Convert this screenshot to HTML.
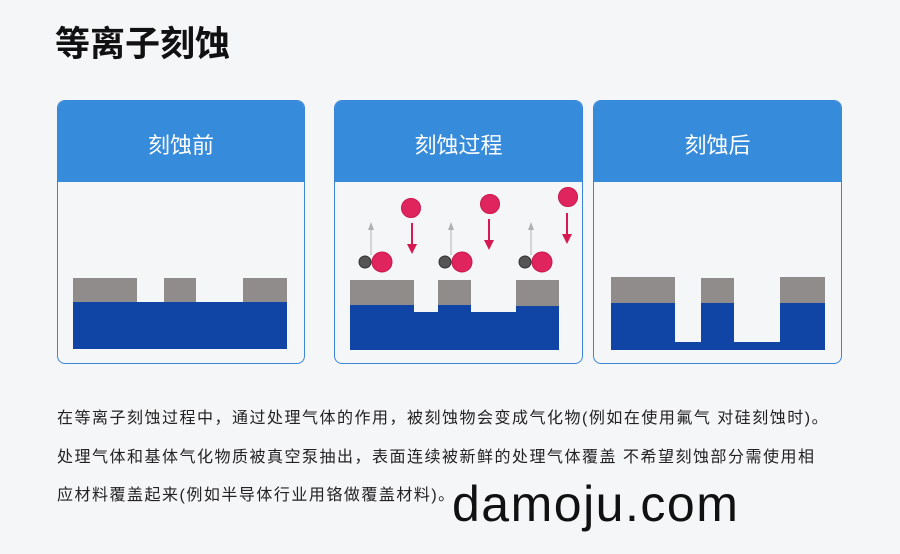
<!DOCTYPE html>
<html><head><meta charset="utf-8"><style>
body{margin:0;width:900px;height:554px;background:#f5f6f8;position:relative;overflow:hidden;font-family:"Liberation Sans","Noto Sans CJK SC",sans-serif}
.t{position:absolute;left:55px;top:16px;font-size:35px;font-weight:bold;color:#111}
.p{position:absolute;top:100px;height:264px;border:1px solid #3b86d6;border-radius:8px;background:#f5f6f8;overflow:hidden;box-sizing:border-box}
.h{height:81px;background:#378bdb;color:#fff;font-size:22px;text-align:center;line-height:90px}
.r{position:absolute}
.txt{position:absolute;left:57px;font-size:16px;color:#222;white-space:nowrap;letter-spacing:1.5px}
.wm{position:absolute;left:452px;top:475px;font-size:50px;color:#111;letter-spacing:1.5px}
</style></head><body>
<div class="t">等离子刻蚀</div>
<div class="p" style="left:57px;width:248px"><div class="h">刻蚀前</div></div>
<div class="p" style="left:334px;width:249px"><div class="h">刻蚀过程</div></div>
<div class="p" style="left:593px;width:249px"><div class="h">刻蚀后</div></div>
<svg class="r" style="left:0;top:0" width="900" height="554">
<g fill="#918c8c">
<rect x="73" y="278" width="64" height="24"/><rect x="164" y="278" width="32" height="24"/><rect x="243" y="278" width="44" height="24"/>
<rect x="350" y="280" width="64" height="25"/><rect x="438" y="280" width="33" height="25"/><rect x="516" y="280" width="43" height="26"/>
<rect x="611" y="277" width="64" height="26"/><rect x="701" y="278" width="33" height="25"/><rect x="780" y="277" width="45" height="26"/>
</g>
<g fill="#1045a6">
<rect x="73" y="302" width="214" height="47"/>
<rect x="350" y="305" width="64" height="45"/><rect x="414" y="312" width="24" height="38"/><rect x="438" y="305" width="33" height="45"/><rect x="471" y="312" width="45" height="38"/><rect x="516" y="306" width="43" height="44"/>
<rect x="611" y="303" width="64" height="47"/><rect x="675" y="342" width="26" height="8"/><rect x="701" y="303" width="33" height="47"/><rect x="734" y="342" width="46" height="8"/><rect x="780" y="303" width="45" height="47"/>
</g>
<g stroke="#c8c8c8" stroke-width="1.5" fill="#b0b0b0">
<line x1="371" y1="255" x2="371" y2="227"/><path d="M368 230 L371 222 L374 230Z" stroke="none"/>
<line x1="451" y1="255" x2="451" y2="227"/><path d="M448 230 L451 222 L454 230Z" stroke="none"/>
<line x1="531" y1="255" x2="531" y2="227"/><path d="M528 230 L531 222 L534 230Z" stroke="none"/>
</g>
<g stroke="#d51a52" stroke-width="2" fill="#d51a52">
<line x1="412" y1="223" x2="412" y2="248"/><path d="M407 244 L412 254 L417 244Z" stroke="none"/>
<line x1="489" y1="219" x2="489" y2="244"/><path d="M484 240 L489 250 L494 240Z" stroke="none"/>
<line x1="567" y1="213" x2="567" y2="238"/><path d="M562 234 L567 244 L572 234Z" stroke="none"/>
</g>
<g fill="#e0245e" stroke="#c8174c" stroke-width="1">
<circle cx="411" cy="208" r="9.5"/><circle cx="490" cy="204" r="9.5"/><circle cx="568" cy="197" r="9.5"/>
<circle cx="382" cy="262" r="10"/><circle cx="462" cy="262" r="10"/><circle cx="542" cy="262" r="10"/>
</g>
<g fill="#555" stroke="#333"><circle cx="365" cy="262" r="6"/><circle cx="445" cy="262" r="6"/><circle cx="525" cy="262" r="6"/></g>
</svg>
<div class="txt" style="top:404px">在等离子刻蚀过程中，通过处理气体的作用，被刻蚀物会变成气化物(例如在使用氟气 对硅刻蚀时)。</div>
<div class="txt" style="top:443px">处理气体和基体气化物质被真空泵抽出，表面连续被新鲜的处理气体覆盖 不希望刻蚀部分需使用相</div>
<div class="txt" style="top:481px">应材料覆盖起来(例如半导体行业用铬做覆盖材料)。</div>
<div class="wm">damoju.com</div>
</body></html>
